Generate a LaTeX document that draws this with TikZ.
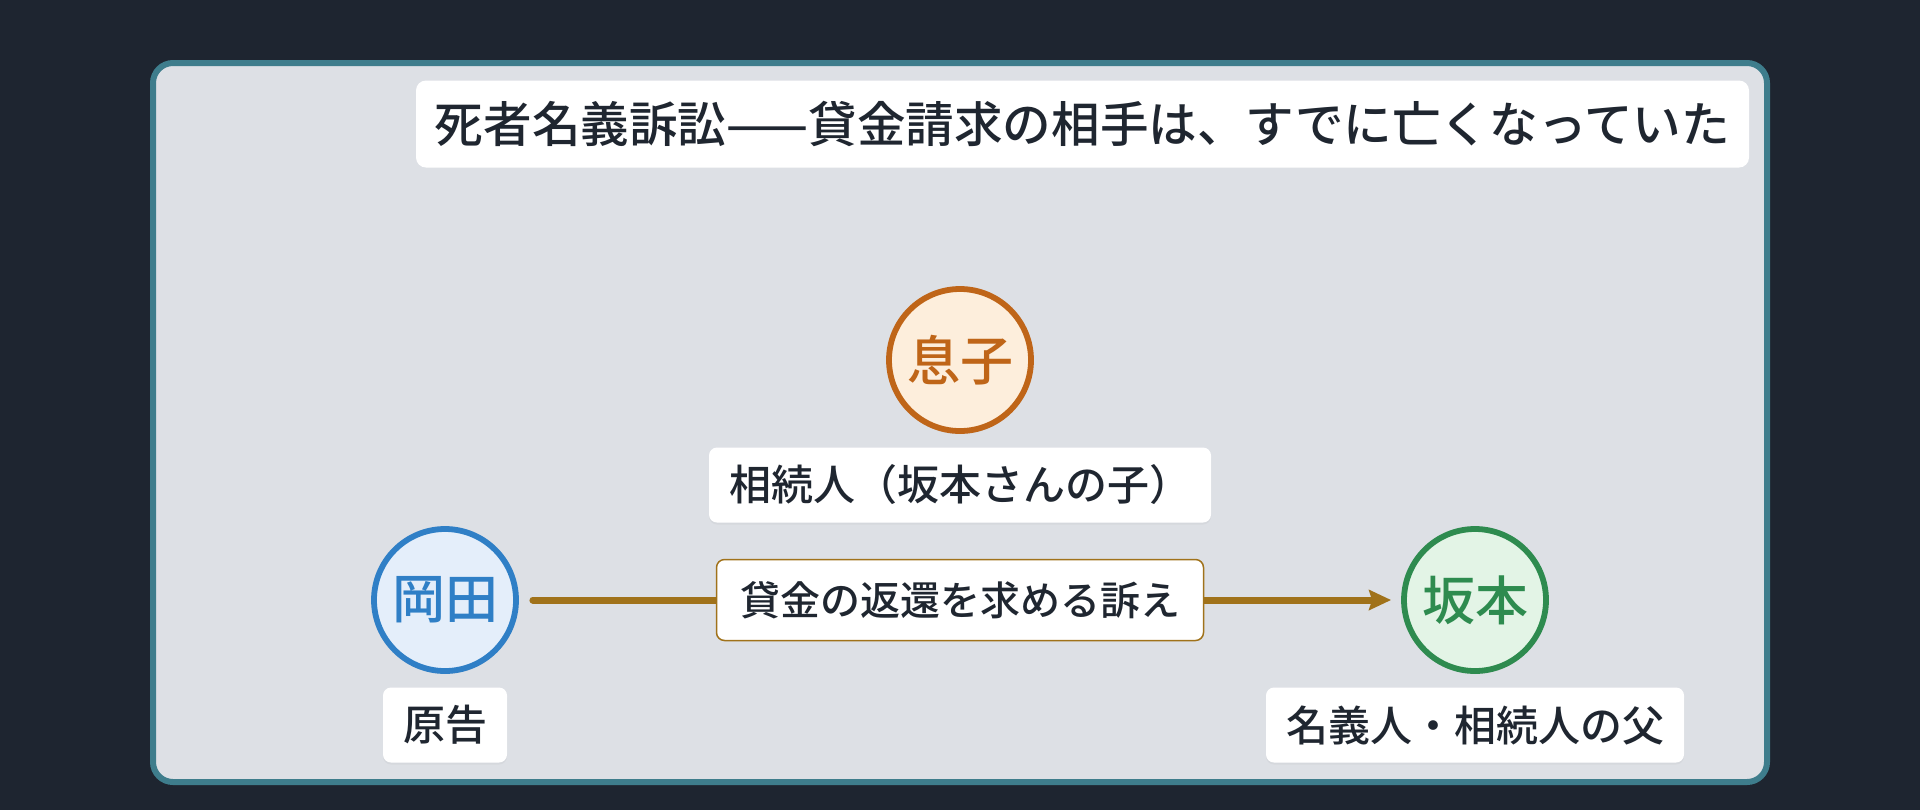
\documentclass[tikz,border=0pt]{standalone}
\usepackage{fontspec}
\setmainfont{Noto Sans CJK JP Medium}
\usetikzlibrary{arrows.meta,shadows}
\definecolor{bgdark}{HTML}{1E2530}
\definecolor{framefill}{HTML}{DDE0E5}
\definecolor{frameline}{HTML}{3E7D8C}
\definecolor{textdark}{HTML}{1F2630}
\definecolor{bluec}{HTML}{2F7FC6}
\definecolor{bluef}{HTML}{E4EEFA}
\definecolor{orangec}{HTML}{BF6518}
\definecolor{orangef}{HTML}{FDEEDC}
\definecolor{greenc}{HTML}{2E8B4F}
\definecolor{greenf}{HTML}{E3F4E6}
\definecolor{goldc}{HTML}{A0721A}
\tikzset{
  person/.style={circle, line width=2.9pt, minimum size=71pt, inner sep=0pt,
    font=\fontsize{26.5}{30}\selectfont,
    drop shadow={opacity=0.10, shadow xshift=0pt, shadow yshift=-1.5pt}},
  tagbox/.style={fill=white, rounded corners=4pt, inner sep=0pt, text=textdark,
    minimum height=37.5pt, font=\fontsize{21}{25}\selectfont,
    drop shadow={opacity=0.08, shadow xshift=0pt, shadow yshift=-1pt}},
  titlebox/.style={fill=white, rounded corners=5pt, inner sep=0pt, text=textdark,
    minimum width=666.5pt, minimum height=43.5pt, font=\fontsize{24.3}{30}\selectfont},
  edgebox/.style={fill=white, draw=goldc, line width=0.75pt, rounded corners=4pt,
    inner sep=0pt, text=textdark, minimum width=243.5pt, minimum height=40.5pt,
    font=\fontsize{20}{24}\selectfont},
  claim/.style={draw=goldc, line width=3.5pt, line cap=round,
    -{Stealth[length=11pt,width=10pt,inset=1.5pt]}}
}
\begin{document}
\begin{tikzpicture}[x=0.5pt,y=-0.5pt]
  \fill[bgdark] (0,0) rectangle (1920,810);
  \useasboundingbox (0,0) rectangle (1920,810);
  \draw[frameline, fill=framefill, line width=3pt, rounded corners=10pt] (153,63) rectangle (1767,782);

  \node[titlebox] (title) at (1082.5,124) {死者名義訴訟——貸金請求の相手は、すでに亡くなっていた};

  \node[person, draw=orangec, fill=orangef, text=orangec] (son) at (960,360) {息子};
  \node[tagbox, minimum width=251pt] (sonlab) at (960,485) {相続人（坂本さんの子）};

  \node[person, draw=bluec, fill=bluef, text=bluec] (okada) at (445,600) {岡田};
  \node[tagbox, minimum width=62pt] (okadalab) at (445,725) {原告};

  \node[person, draw=greenc, fill=greenf, text=greenc] (sakamoto) at (1475,600) {坂本};
  \node[tagbox, minimum width=209pt] (sakalab) at (1475,725) {名義人・相続人の父};

  \draw[claim, shorten <=7pt, shorten >=5pt] (okada.east) -- (sakamoto.west);
  \node[edgebox] (claimlab) at (960,600) {貸金の返還を求める訴え};
\end{tikzpicture}
\end{document}
